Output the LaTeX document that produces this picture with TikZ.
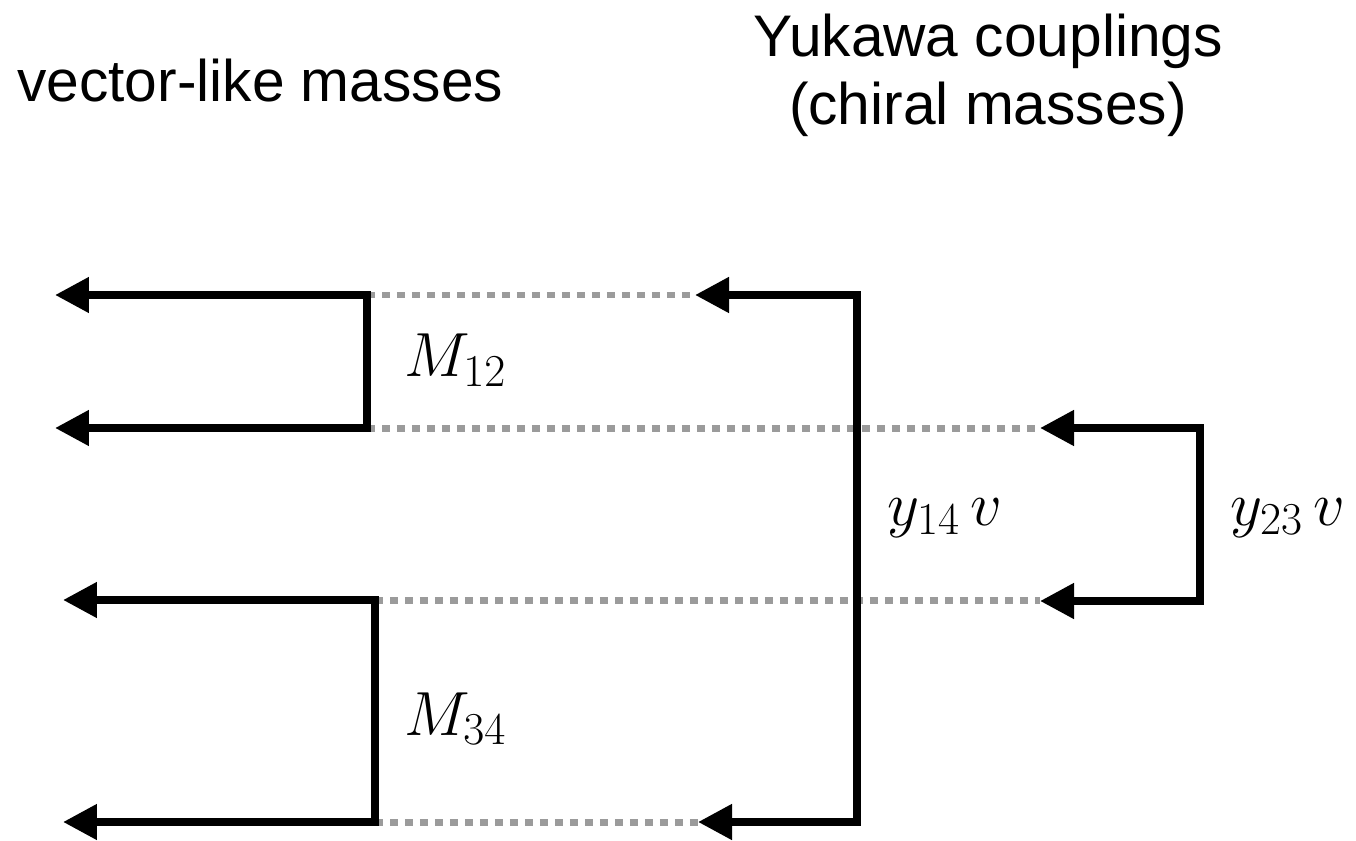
\RequirePackage{fix-cm}
\documentclass[tikz,border=0pt]{standalone}
\usepackage{fontspec}
\setmainfont{Liberation Sans}
\definecolor{DotGray}{RGB}{155, 155, 155}
\usepackage{amsmath}
\DeclareMathSizes{35.5}{35.5}{26}{19}
\usepackage{tikz}
\usetikzlibrary{arrows.meta, positioning}

\begin{document}
\begin{tikzpicture}[x=0.02cm, y=-0.02cm,
  head/.style={font=\fontsize{33.4}{40}\selectfont, inner sep=0pt, align=center},
  lab/.style={font=\fontsize{35.5}{42}\selectfont, inner sep=0pt, anchor=base west},
  arr/.style={{Triangle[length=0.68cm, width=0.68cm]}-{Triangle[length=0.68cm, width=0.68cm]}, black, line width=0.155cm},
  dots/.style={DotGray, line width=0.14cm, dash pattern=on 0.16cm off 0.14cm}]
\useasboundingbox (0, 0) rectangle (1356, 841);
\node[head, anchor=base west] (vl) at (17, 102) {vector-like masses};
\node[head, anchor=base] (yk) at (988, 57) {Yukawa couplings};
\node[head, anchor=base] (ch) at (988, 125) {(chiral masses)};
\coordinate (a1) at (55, 295); \coordinate (a2) at (55, 428); \coordinate (m1) at (367, 295); \coordinate (m2) at (367, 428);
\coordinate (b1) at (63, 600); \coordinate (b2) at (63, 822); \coordinate (n1) at (375, 600); \coordinate (n2) at (375, 822);
\coordinate (p1) at (695, 295); \coordinate (p2) at (698, 822); \coordinate (y1) at (857, 295); \coordinate (y2) at (857, 822);
\coordinate (q1) at (1040, 428); \coordinate (q2) at (1040, 601); \coordinate (z1) at (1200, 428); \coordinate (z2) at (1200, 601);
\draw[dots] (m1) -- (p1); \draw[dots] (m2) -- (q1); \draw[dots] (n1) -- (q2 |- n1); \draw[dots] (n2) -- (p2);
\draw[arr] (a1) -- (m1) -- (m2) -- (a2);
\draw[arr] (b1) -- (n1) -- (n2) -- (b2);
\draw[arr] (p1) -- (y1) -- (y2) -- (p2);
\draw[arr] (q1) -- (z1) -- (z2) -- (q2);
\node[lab] (M12) at (404, 377) {$M_{12}$};
\node[lab] (M34) at (404, 735) {$M_{34}$};
\node[lab] (y14) at (887, 525) {$y_{14}\,v$};
\node[lab] (y23) at (1230, 525) {$y_{23}\,v$};
\end{tikzpicture}
\end{document}
